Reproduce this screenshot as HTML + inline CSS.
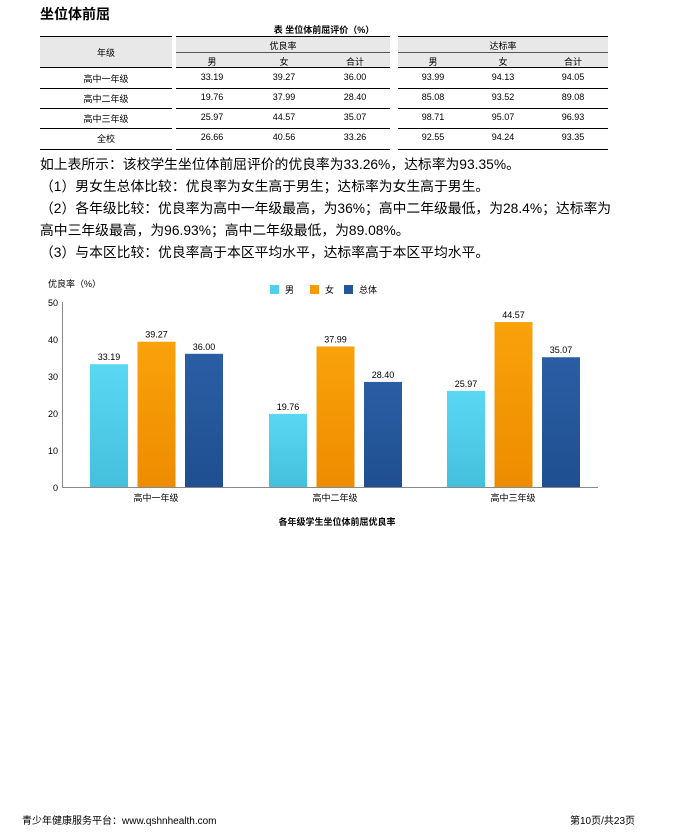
<!DOCTYPE html>
<html><head><meta charset="utf-8"><style>
body{margin:0;width:699px;height:839px;background:#fff;position:relative;font-family:"Liberation Sans","Noto Sans CJK SC",sans-serif;color:#000;overflow:hidden}
.a{position:absolute;white-space:nowrap}
.t{font-size:9px;text-align:center}
.ln{position:absolute;background:#000;height:1px}
.g{position:absolute;background:#e8e8e8}
.p{font-size:13.8px;left:40px}
</style></head><body>
<div class="a" style="left:40px;top:4px;font-size:14px;font-weight:bold">坐位体前屈</div>
<div class="a t" style="left:40px;width:568px;top:23px;font-weight:bold">表 坐位体前屈评价（%）</div>
<div class="g" style="left:40px;top:37px;width:132px;height:30px"></div>
<div class="g" style="left:176px;top:37px;width:214px;height:15px"></div>
<div class="g" style="left:398px;top:37px;width:210px;height:15px"></div>
<div class="g" style="left:176px;top:53px;width:214px;height:14px"></div>
<div class="g" style="left:398px;top:53px;width:210px;height:14px"></div>
<div class="ln" style="left:40px;width:132px;top:36px"></div>
<div class="ln" style="left:176px;width:214px;top:36px"></div>
<div class="ln" style="left:398px;width:210px;top:36px"></div>
<div class="ln" style="left:176px;width:214px;top:52px;background:#555"></div>
<div class="ln" style="left:398px;width:210px;top:52px;background:#555"></div>
<div class="ln" style="left:40px;width:568px;top:67px"></div>
<div class="ln" style="left:40px;width:568px;top:88px"></div>
<div class="ln" style="left:40px;width:568px;top:108px"></div>
<div class="ln" style="left:40px;width:568px;top:128px"></div>
<div class="ln" style="left:40px;width:568px;top:149px"></div>
<div class="ln" style="left:172px;width:4px;top:67px;background:#fff;height:83px"></div>
<div class="ln" style="left:390px;width:8px;top:67px;background:#fff;height:83px"></div>
<div class="a t" style="left:40px;width:132px;top:46px">年级</div>
<div class="a t" style="left:176px;width:214px;top:39px">优良率</div>
<div class="a t" style="left:398px;width:210px;top:39px">达标率</div>
<div class="a t" style="left:176px;width:72px;top:55px">男</div>
<div class="a t" style="left:248px;width:72px;top:55px">女</div>
<div class="a t" style="left:320px;width:70px;top:55px">合计</div>
<div class="a t" style="left:398px;width:70px;top:55px">男</div>
<div class="a t" style="left:468px;width:70px;top:55px">女</div>
<div class="a t" style="left:538px;width:70px;top:55px">合计</div>
<div id="rows"></div>
<script>
var d=[["高中一年级","33.19","39.27","36.00","93.99","94.13","94.05"],["高中二年级","19.76","37.99","28.40","85.08","93.52","89.08"],["高中三年级","25.97","44.57","35.07","98.71","95.07","96.93"],["全校","26.66","40.56","33.26","92.55","94.24","93.35"]];
var xs=[[40,132],[176,72],[248,72],[320,70],[398,70],[468,70],[538,70]],tops=[72,92,112,132],h="";
d.forEach(function(r,i){r.forEach(function(c,j){h+='<div class="a t" style="left:'+xs[j][0]+'px;width:'+xs[j][1]+'px;top:'+tops[i]+'px">'+c+'</div>';});});
document.getElementById('rows').innerHTML=h;
</script>
<div class="a p" style="top:153px">如上表所示：该校学生坐位体前屈评价的优良率为33.26%，达标率为93.35%。</div>
<div class="a p" style="top:175px">（1）男女生总体比较：优良率为女生高于男生；达标率为女生高于男生。</div>
<div class="a p" style="top:197px">（2）各年级比较：优良率为高中一年级最高，为36%；高中二年级最低，为28.4%；达标率为</div>
<div class="a p" style="top:219px">高中三年级最高，为96.93%；高中二年级最低，为89.08%。</div>
<div class="a p" style="top:241px">（3）与本区比较：优良率高于本区平均水平，达标率高于本区平均水平。</div>
<svg class="a" style="left:0;top:0" width="699" height="839" font-family="Liberation Sans, Noto Sans CJK SC, sans-serif">
<defs>
<linearGradient id="c" x1="0" y1="0" x2="0" y2="1"><stop offset="0" stop-color="#5ad8f2"/><stop offset="1" stop-color="#44c0dc"/></linearGradient>
<linearGradient id="o" x1="0" y1="0" x2="0" y2="1"><stop offset="0" stop-color="#f9a20a"/><stop offset="1" stop-color="#ee8c00"/></linearGradient>
<linearGradient id="b" x1="0" y1="0" x2="0" y2="1"><stop offset="0" stop-color="#2a5ea4"/><stop offset="1" stop-color="#1f4f90"/></linearGradient>
</defs>
<text x="48" y="287" font-size="9">优良率（%）</text>
<rect x="270" y="285" width="9" height="9" fill="#4dd0ec"/><text x="285" y="293" font-size="9">男</text>
<rect x="310" y="285" width="9" height="9" fill="#f59a05"/><text x="325" y="293" font-size="9">女</text>
<rect x="344" y="285" width="9" height="9" fill="#24569a"/><text x="359" y="293" font-size="9">总体</text>
<g font-size="9" text-anchor="end">
<text x="58" y="306">50</text><text x="58" y="343">40</text><text x="58" y="380">30</text><text x="58" y="417">20</text><text x="58" y="454">10</text><text x="58" y="491">0</text>
</g>
<line x1="62.5" y1="302" x2="62.5" y2="487" stroke="#888"/>
<line x1="62" y1="487.5" x2="598" y2="487.5" stroke="#888"/>
<g id="bars"></g>
<g font-size="9" text-anchor="middle">
<text x="156" y="501">高中一年级</text><text x="335" y="501">高中二年级</text><text x="513" y="501">高中三年级</text>
<text x="337" y="525" font-weight="bold">各年级学生坐位体前屈优良率</text>
</g>
</svg>
<script>
var v=[[33.19,39.27,36.00],[19.76,37.99,28.40],[25.97,44.57,35.07]],gx=[90,269,447],f=["url(#c)","url(#o)","url(#b)"],s="";
v.forEach(function(g,i){g.forEach(function(val,j){var x=gx[i]+j*47.5,hh=val*3.7,y=487-hh;s+='<rect x="'+x+'" y="'+y+'" width="38" height="'+hh+'" fill="'+f[j]+'"/><text x="'+(x+19)+'" y="'+(y-4)+'" font-size="9" text-anchor="middle">'+val.toFixed(2)+'</text>';});});
document.getElementById('bars').innerHTML=s;
</script>
<div class="a" style="left:22px;top:812px;font-size:10px">青少年健康服务平台：www.qshnhealth.com</div>
<div class="a" style="left:570px;top:812px;font-size:10px">第10页/共23页</div>
</body></html>
